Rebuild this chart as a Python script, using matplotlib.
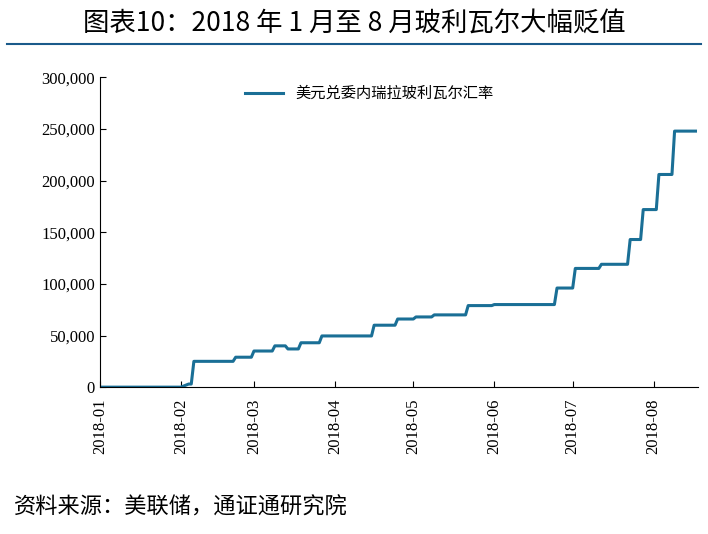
import matplotlib
matplotlib.use("Agg")
import matplotlib.pyplot as plt
import pandas as pd

plt.rcParams['font.family'] = ['Noto Sans CJK SC', 'DejaVu Sans']

dates = ["2018-01-01","2018-02-01","2018-02-04","2018-02-05","2018-02-06","2018-02-21","2018-02-22",
         "2018-02-28","2018-03-01","2018-03-08","2018-03-09","2018-03-13","2018-03-14","2018-03-18","2018-03-19",
         "2018-03-26","2018-03-27","2018-04-15","2018-04-16","2018-04-24","2018-04-25","2018-05-01","2018-05-02",
         "2018-05-08","2018-05-09","2018-05-21","2018-05-22","2018-05-31","2018-06-01","2018-06-24","2018-06-25",
         "2018-07-01","2018-07-02","2018-07-11","2018-07-12","2018-07-22","2018-07-23","2018-07-27","2018-07-28",
         "2018-08-02","2018-08-03","2018-08-08","2018-08-09","2018-08-13","2018-08-14","2018-08-17"]
values = [0,0,3000,3000,25000,25000,29000,
          29000,35000,35000,40000,40000,37000,37000,43000,
          43000,49600,49600,60000,60000,66000,66000,68000,
          68000,70000,70000,79000,79000,80000,80000,96000,
          96000,115000,115000,119000,119000,143000,143000,172000,
          172000,206000,206000,248000,248000,248000,248000]
yticks = [0,50000,100000,150000,200000,250000,300000]
xticks = ["2018-01","2018-02","2018-03","2018-04","2018-05","2018-06","2018-07","2018-08"]

fig = plt.figure(figsize=(7.08,5.34), dpi=100)
ax = fig.add_axes([0.141, 0.275, 0.845, 0.58])
ax.plot(pd.to_datetime(dates), values, color='#1a6f96', lw=2.2, label='美元兑委内瑞拉玻利瓦尔汇率')
ax.set_ylim(0,300000)
ax.set_yticks(yticks)
ax.set_yticklabels([f"{v:,}" for v in yticks], fontfamily='Liberation Serif', fontsize=12)
ax.set_xlim(pd.Timestamp("2018-01-01"), pd.Timestamp("2018-08-18"))
ax.set_xticks(pd.to_datetime([x+"-01" for x in xticks]))
ax.set_xticklabels(xticks, rotation=90, fontfamily='Liberation Serif', fontsize=12)
for s in ['top','right']:
    ax.spines[s].set_visible(False)
ax.tick_params(direction='in', length=4)
ax.tick_params(axis='x', pad=8)
ax.legend(loc='upper center', bbox_to_anchor=(0.45,1.02), frameon=False, fontsize=11, handlelength=2.5)
fig.text(0.5, 0.955, "图表10：2018 年 1 月至 8 月玻利瓦尔大幅贬值", ha='center', va='center', fontsize=19)
fig.add_artist(plt.Line2D([0.01,0.99],[0.918,0.918], color='#1a5a8a', lw=1.5))
fig.text(0.02, 0.05, "资料来源：美联储，通证通研究院", ha='left', va='center', fontsize=16, style='italic')
fig.savefig("out.png")
